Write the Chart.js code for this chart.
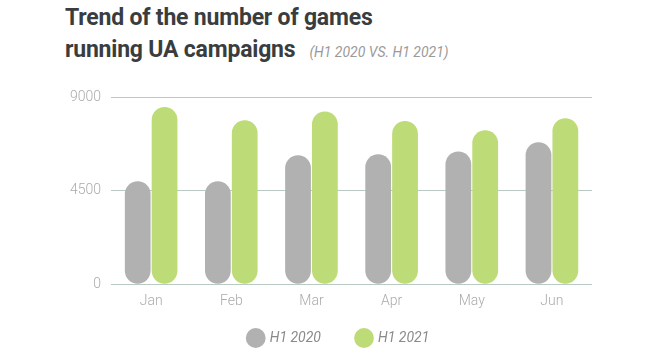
<!DOCTYPE html>
<html>
<head>
<meta charset="utf-8">
<script src="https://cdn.jsdelivr.net/npm/chart.js@4"></script>
<style>
  body { margin: 0; background: #fff; }
  #wrap { position: relative; width: 671px; height: 353px; }
  #title {
    position: absolute; left: 65px; top: 2px;
    font-family: Roboto, "Liberation Sans", sans-serif; font-weight: bold;
    font-size: 23px; line-height: 32px; color: #3a3d40; letter-spacing: -0.2px;
  }
  #title .sub {
    font-weight: normal; font-style: italic; font-size: 14px; color: #9a9a9a;
    margin-left: 14px; letter-spacing: 0;
  }
  canvas { position: absolute; left: 0; top: 0; }
</style>
</head>
<body>
<div id="wrap">
  <div id="title">Trend of the number of games<br>running UA campaigns<span class="sub">(H1 2020 VS. H1 2021)</span></div>
  <canvas id="grafico" width="671" height="353"></canvas>
</div>
<script>
const meses = ["Jan", "Feb", "Mar", "Apr", "May", "Jun"];
const serieLabels = ["H1 2020", "H1 2021"];
const valores2020 = [4950, 4950, 6200, 6250, 6380, 6830];
const valores2021 = [8520, 7880, 8300, 7850, 7400, 7980];
const yTicks = [0, 4500, 9000];

// legenda: espaço horizontal largo, mas caixa mais baixa
const ajusteLegenda = {
  id: "ajusteLegenda",
  afterInit(chart) {
    const legend = chart.legend;
    const fitOrig = legend.fit;
    const drawOrig = legend.draw;
    legend.fit = function () {
      fitOrig.call(this);
      this.height -= 22;
    };
    legend.draw = function (area) {
      const { top, left, right } = this;
      this.top -= 16;
      this.left += 13;
      this.right += 13;
      drawOrig.call(this, area);
      this.top = top;
      this.left = left;
      this.right = right;
    };
  },
};

const ctx = document.getElementById("grafico").getContext("2d");

const chart = new Chart(ctx, {
  type: "bar",
  data: {
    labels: meses,
    datasets: [
      {
        label: serieLabels[0],
        data: valores2020,
        backgroundColor: "#b1b1b1",
        borderRadius: 13,
        borderSkipped: false,
        barPercentage: 0.96,
        categoryPercentage: 0.67,
      },
      {
        label: serieLabels[1],
        data: valores2021,
        backgroundColor: "#bddb76",
        borderRadius: 13,
        borderSkipped: false,
        barPercentage: 0.96,
        categoryPercentage: 0.67,
      },
    ],
  },
  options: {
    responsive: false,
    animation: false,
    layout: {
      padding: { top: 97, left: 60, right: 79, bottom: 4 },
    },
    scales: {
      y: {
        min: 0,
        max: 9000,
        afterBuildTicks: (axis) => {
          axis.ticks = yTicks.map((v) => ({ value: v }));
        },
        border: { display: false },
        grid: { color: "#b9c9c5", drawTicks: false, lineWidth: 1 },
        ticks: {
          color: "#ababab",
          padding: 10,
          font: { family: "Roboto", size: 14, weight: 300 },
          callback: (v) => String(v),
        },
      },
      x: {
        border: { display: false },
        grid: { display: false },
        ticks: {
          color: "#ababab",
          padding: 1,
          font: { family: "Roboto", size: 14, weight: 300 },
        },
      },
    },
    plugins: {
      legend: {
        position: "bottom",
        labels: {
          usePointStyle: true,
          pointStyle: "circle",
          boxWidth: 14,
          boxHeight: 14,
          padding: 36,
          color: "#8a8a8a",
          font: { family: "Roboto", size: 14, style: "italic" },
        },
      },
      title: { display: false },
      tooltip: { enabled: false },
    },
  },
  plugins: [ajusteLegenda],
});
</script>
</body>
</html>
